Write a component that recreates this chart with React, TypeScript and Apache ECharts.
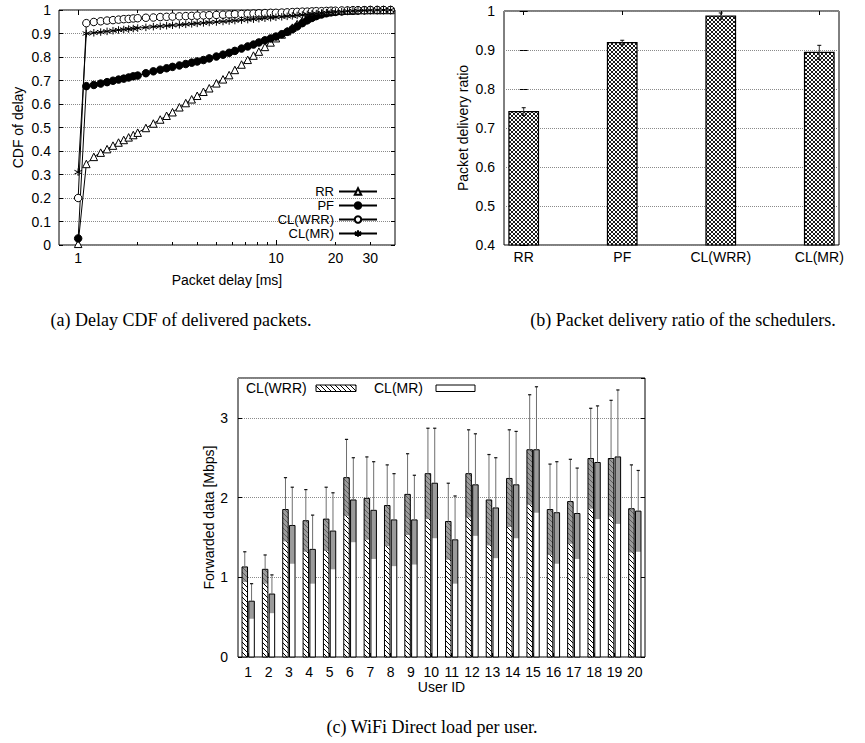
import React, { useEffect, useRef } from 'react';
import * as echarts from 'echarts';

// ---------- (a) Delay CDF ----------
const delayMs = [1.0, 1.1, 1.2, 1.3, 1.4, 1.5, 1.6, 1.7, 1.8, 1.9, 2.0, 2.2, 2.4, 2.6, 2.8, 3.0, 3.25, 3.5, 3.75, 4.0, 4.3, 4.6, 5.0, 5.4, 5.8, 6.2, 6.7, 7.2, 7.7, 8.2, 8.8, 9.4, 10, 10.7, 11.4, 12.1, 12.8, 13.6, 14.4, 15.2, 16, 17, 18, 19, 20, 21.5, 23, 24.5, 26, 28, 30, 32.5, 35, 38];
const cdfRR = [0.005, 0.345, 0.375, 0.393, 0.408, 0.423, 0.436, 0.447, 0.458, 0.468, 0.478, 0.498, 0.517, 0.534, 0.55, 0.565, 0.586, 0.604, 0.62, 0.635, 0.652, 0.667, 0.688, 0.705, 0.723, 0.745, 0.768, 0.788, 0.806, 0.823, 0.843, 0.862, 0.88, 0.896, 0.91, 0.925, 0.94, 0.954, 0.965, 0.974, 0.981, 0.987, 0.991, 0.994, 0.996, 0.997, 0.998, 0.999, 1, 1, 1, 1, 1, 1];
const cdfPF = [0.028, 0.676, 0.681, 0.687, 0.693, 0.699, 0.704, 0.708, 0.713, 0.718, 0.721, 0.731, 0.739, 0.746, 0.752, 0.758, 0.764, 0.77, 0.776, 0.781, 0.787, 0.794, 0.802, 0.81, 0.818, 0.826, 0.836, 0.845, 0.853, 0.862, 0.871, 0.879, 0.887, 0.897, 0.907, 0.918, 0.93, 0.944, 0.956, 0.966, 0.974, 0.981, 0.986, 0.99, 0.992, 0.994, 0.996, 0.997, 0.998, 0.999, 1, 1, 1, 1];
const cdfWRR = [0.2, 0.944, 0.949, 0.952, 0.955, 0.957, 0.959, 0.961, 0.962, 0.964, 0.965, 0.967, 0.968, 0.97, 0.971, 0.972, 0.973, 0.974, 0.975, 0.976, 0.977, 0.978, 0.979, 0.98, 0.981, 0.982, 0.983, 0.984, 0.985, 0.986, 0.987, 0.988, 0.988, 0.989, 0.99, 0.991, 0.992, 0.993, 0.993, 0.994, 0.995, 0.995, 0.996, 0.997, 0.997, 0.998, 0.998, 0.999, 0.999, 0.999, 1, 1, 1, 1];
const cdfMR = [0.31, 0.9, 0.903, 0.906, 0.909, 0.912, 0.915, 0.917, 0.919, 0.921, 0.923, 0.926, 0.929, 0.931, 0.933, 0.935, 0.937, 0.939, 0.941, 0.943, 0.945, 0.947, 0.949, 0.951, 0.953, 0.955, 0.957, 0.959, 0.961, 0.963, 0.965, 0.967, 0.969, 0.971, 0.973, 0.975, 0.977, 0.979, 0.981, 0.983, 0.985, 0.987, 0.989, 0.99, 0.992, 0.993, 0.995, 0.996, 0.997, 0.998, 0.999, 1, 1, 1];
const cdfSeriesNames = ['RR', 'PF', 'CL(WRR)', 'CL(MR)'];
const delayLabelTicks = [1, 10, 20, 30];
const delayMajorTicks = [1, 10];
const delayMinorTicks = [2, 3, 4, 5, 6, 7, 8, 9, 20, 30];

// ---------- (b) Packet delivery ratio ----------
const schedulers = ['RR', 'PF', 'CL(WRR)', 'CL(MR)'];
const deliveryRatio = [0.742, 0.919, 0.987, 0.894];
const deliveryErr = [0.01, 0.006, 0.008, 0.018];

// ---------- (c) WiFi Direct load per user ----------
const userIds = ['1', '2', '3', '4', '5', '6', '7', '8', '9', '10', '11', '12', '13', '14', '15', '16', '17', '18', '19', '20'];
const loadWRR = [1.13, 1.1, 1.85, 1.71, 1.73, 2.25, 1.99, 1.9, 2.04, 2.3, 1.7, 2.3, 1.97, 2.24, 2.6, 1.85, 1.95, 2.49, 2.49, 1.86];
const errWRR = [0.19, 0.18, 0.4, 0.39, 0.4, 0.48, 0.52, 0.51, 0.51, 0.57, 0.48, 0.55, 0.57, 0.61, 0.69, 0.57, 0.53, 0.63, 0.73, 0.55];
const loadMR = [0.7, 0.79, 1.65, 1.35, 1.58, 1.97, 1.84, 1.72, 1.72, 2.18, 1.47, 2.16, 1.87, 2.16, 2.6, 1.81, 1.8, 2.44, 2.51, 1.83];
const errMR = [0.22, 0.24, 0.48, 0.43, 0.48, 0.53, 0.61, 0.58, 0.56, 0.69, 0.55, 0.64, 0.63, 0.67, 0.79, 0.64, 0.57, 0.71, 0.84, 0.51];

const SANS = '"Liberation Sans", Arial, Helvetica, sans-serif';
const SERIF = '"Liberation Serif", "Times New Roman", serif';
const FS = 14;
const CAP = 18;
const ASTERISK = 'path://M5,0L5,10M0.67,2.5L9.33,7.5M0.67,7.5L9.33,2.5';

function makeCrossHatch() {
  const s = 4;
  const c = document.createElement('canvas');
  c.width = s; c.height = s;
  const g = c.getContext('2d')!;
  g.fillStyle = '#fff'; g.fillRect(0, 0, s, s);
  g.strokeStyle = '#000'; g.lineWidth = 0.9;
  g.beginPath();
  for (const k of [-s, 0, s]) {
    g.moveTo(k - 1, -1); g.lineTo(k + s + 1, s + 1);
    g.moveTo(k - 1, s + 1); g.lineTo(k + s + 1, -1);
  }
  g.stroke();
  return { image: c, repeat: 'repeat', imageWidth: s, imageHeight: s };
}

function makeDiagHatch() {
  const s = 5;
  const c = document.createElement('canvas');
  c.width = s; c.height = s;
  const g = c.getContext('2d')!;
  g.fillStyle = '#fff'; g.fillRect(0, 0, s, s);
  g.strokeStyle = '#000'; g.lineWidth = 1;
  g.beginPath();
  for (const k of [-s, 0, s]) {
    g.moveTo(k - 1, -1); g.lineTo(k + s + 1, s + 1);
  }
  g.stroke();
  return { image: c, repeat: 'repeat', imageWidth: s, imageHeight: s };
}

const tickInside = (len: number, extra: any = {}) => ({ show: true, inside: true, length: len, lineStyle: { color: '#000', width: 1 }, ...extra });
const dotted = { show: true, lineStyle: { color: '#8a8a8a', type: 'dotted', width: 1 } };
const labelStyle = (margin: number, extra: any = {}) => ({ margin, fontSize: FS, color: '#000', fontFamily: SANS, ...extra });
const nameStyle = { fontSize: FS, color: '#000', fontFamily: SANS };

export default function App() {
  const ref = useRef<HTMLDivElement>(null);
  useEffect(() => {
    const el = ref.current!;
    const chart = echarts.init(el, undefined, { renderer: 'svg' });
    const crossHatch = makeCrossHatch();
    const diagHatch = makeDiagHatch();
    const DELIVERY_MIN = 0.4;

    const cdfStyles = [
      { symbol: 'triangle', fill: '#fff' },
      { symbol: 'circle', fill: '#000' },
      { symbol: 'circle', fill: '#fff' },
      { symbol: ASTERISK, fill: '#000' },
    ];
    const cdfSeries = [cdfRR, cdfPF, cdfWRR, cdfMR].map((ys, k) => ({
      type: 'line',
      name: cdfSeriesNames[k],
      xAxisIndex: 0,
      yAxisIndex: 0,
      data: delayMs.map((d, i) => [d, ys[i]]),
      symbol: cdfStyles[k].symbol,
      symbolSize: 7.5,
      showSymbol: true,
      showAllSymbol: true,
      clip: false,
      lineStyle: { color: '#000', width: 1 },
      itemStyle: { color: cdfStyles[k].fill, borderColor: '#000', borderWidth: 1 },
      emphasis: { disabled: true },
      z: 3 + k,
    }));

    const deliverySeries = {
      type: 'custom',
      name: 'delivery',
      xAxisIndex: 4,
      yAxisIndex: 2,
      data: schedulers.map((s, i) => [i, deliveryRatio[i], deliveryErr[i]]),
      renderItem: (params: any, api: any) => {
        const i = api.value(0), v = api.value(1), e = api.value(2);
        const w = api.size([0.3, 0])[0];
        const base = api.coord([i, DELIVERY_MIN]);
        const top = api.coord([i, v]);
        const hi = api.coord([i, v + e])[1];
        const lo = api.coord([i, v - e])[1];
        const x = top[0];
        return {
          type: 'group',
          children: [
            { type: 'rect', shape: { x: x - w / 2, y: top[1], width: w, height: base[1] - top[1] }, style: { fill: crossHatch, stroke: '#000', lineWidth: 1.2 } },
            { type: 'line', shape: { x1: x, y1: lo, x2: x, y2: hi }, style: { stroke: '#333', lineWidth: 1 } },
            { type: 'line', shape: { x1: x - 2, y1: hi, x2: x + 2, y2: hi }, style: { stroke: '#000', lineWidth: 1 } },
            { type: 'line', shape: { x1: x - 2, y1: lo, x2: x + 2, y2: lo }, style: { stroke: '#000', lineWidth: 1 } },
          ],
        };
      },
    };

    const loadSeries = (name: string, vals: number[], errs: number[], side: number, fill: any) => ({
      type: 'custom',
      name,
      xAxisIndex: 6,
      yAxisIndex: 4,
      data: userIds.map((u, i) => [i, vals[i], errs[i]]),
      renderItem: (params: any, api: any) => {
        const i = api.value(0), v = api.value(1), e = api.value(2);
        const band = api.size([1, 0])[0];
        const w = band * 0.27;
        const c = api.coord([i, 0])[0] + side * band * 0.167;
        const y0 = api.coord([i, 0])[1];
        const yv = api.coord([i, v])[1];
        const yHi = api.coord([i, v + e])[1];
        const yLo = api.coord([i, v - e])[1];
        return {
          type: 'group',
          children: [
            { type: 'rect', shape: { x: c - w / 2, y: yv, width: w, height: y0 - yv }, style: { fill } },
            { type: 'rect', shape: { x: c - w / 2, y: yv, width: w, height: yLo - yv }, style: { fill: '#7a7a7a', opacity: 0.75 } },
            { type: 'rect', shape: { x: c - w / 2, y: yv, width: w, height: y0 - yv }, style: { fill: 'none', stroke: '#000', lineWidth: 1 } },
            { type: 'line', shape: { x1: c, y1: yv, x2: c, y2: yHi }, style: { stroke: '#6e6e6e', lineWidth: 1 } },
            { type: 'line', shape: { x1: c - 1.6, y1: yHi, x2: c + 1.6, y2: yHi }, style: { stroke: '#111', lineWidth: 1.2 } },
          ],
        };
      },
    });

    const logAxisBase = { gridIndex: 0, type: 'log', logBase: 10, min: 0.8, max: 40, splitLine: { show: false }, axisLine: { show: false }, minorTick: { show: false } };

    const option: any = {
      animation: false,
      backgroundColor: '#fff',
      textStyle: { fontFamily: SANS },
      grid: [
        { left: 59, top: 10, width: 336, height: 235, show: true, borderColor: '#000', borderWidth: 1, backgroundColor: 'transparent', outerBoundsMode: 'none' },
        { left: 504, top: 11, width: 335, height: 234, show: true, borderColor: '#000', borderWidth: 1, backgroundColor: 'transparent', outerBoundsMode: 'none' },
        { left: 238, top: 378, width: 407, height: 279, show: true, borderColor: '#000', borderWidth: 1, backgroundColor: 'transparent', outerBoundsMode: 'none' },
      ],
      legend: [{
        data: cdfSeriesNames,
        orient: 'vertical',
        align: 'right',
        right: 487,
        top: 185,
        padding: 0,
        itemWidth: 38,
        itemHeight: 8,
        itemGap: 1,
        selectedMode: false,
        textStyle: { fontSize: 13, color: '#000', fontFamily: SANS, lineHeight: 13 },
      }],
      xAxis: [
        { ...logAxisBase, position: 'bottom', axisTick: tickInside(5, { customValues: delayMajorTicks }), axisLabel: labelStyle(6, { customValues: delayLabelTicks }), name: 'Packet delay [ms]', nameLocation: 'middle', nameGap: 28, nameTextStyle: nameStyle },
        { ...logAxisBase, position: 'bottom', axisTick: tickInside(3, { customValues: delayMinorTicks }), axisLabel: { show: false } },
        { ...logAxisBase, position: 'top', axisTick: tickInside(5, { customValues: delayMajorTicks }), axisLabel: { show: false } },
        { ...logAxisBase, position: 'top', axisTick: tickInside(3, { customValues: delayMinorTicks }), axisLabel: { show: false } },
        { gridIndex: 1, type: 'value', min: -0.2, max: 3.2, position: 'bottom', splitLine: { show: false }, axisLine: { show: false }, axisTick: { show: false },
          axisLabel: labelStyle(5, { customValues: [0, 1, 2, 3], formatter: (v: number) => schedulers[Math.round(v)] ?? '' }) },
        { gridIndex: 1, type: 'value', min: -0.2, max: 3.2, position: 'top', splitLine: { show: false }, axisLine: { show: false }, axisTick: tickInside(4, { customValues: [0, 1, 2, 3] }), axisLabel: { show: false } },
        { gridIndex: 2, type: 'category', data: userIds, position: 'bottom', boundaryGap: true, splitLine: { show: false }, axisLine: { show: false },
          axisTick: tickInside(4, { alignWithLabel: true }), axisLabel: labelStyle(8, { interval: 0 }),
          name: 'User ID', nameLocation: 'middle', nameGap: 20, nameTextStyle: nameStyle },
      ],
      yAxis: [
        { gridIndex: 0, type: 'value', min: 0, max: 1, interval: 0.1, position: 'left', axisLine: { show: false }, axisTick: tickInside(4), axisLabel: labelStyle(8), splitLine: dotted,
          name: 'CDF of delay', nameLocation: 'middle', nameGap: 34, nameTextStyle: nameStyle },
        { gridIndex: 0, type: 'value', min: 0, max: 1, interval: 0.1, position: 'right', axisLine: { show: false }, axisTick: tickInside(4), axisLabel: { show: false }, splitLine: { show: false } },
        { gridIndex: 1, type: 'value', min: DELIVERY_MIN, max: 1, interval: 0.1, position: 'left', axisLine: { show: false }, axisTick: tickInside(4), axisLabel: labelStyle(9), splitLine: dotted,
          name: 'Packet delivery ratio', nameLocation: 'middle', nameGap: 34, nameTextStyle: nameStyle },
        { gridIndex: 1, type: 'value', min: DELIVERY_MIN, max: 1, interval: 0.1, position: 'right', axisLine: { show: false }, axisTick: tickInside(4), axisLabel: { show: false }, splitLine: { show: false } },
        { gridIndex: 2, type: 'value', min: 0, max: 3.5, interval: 1, position: 'left', axisLine: { show: false }, axisTick: tickInside(4), axisLabel: labelStyle(10, { showMaxLabel: false }), splitLine: dotted,
          name: 'Forwarded data [Mbps]', nameLocation: 'middle', nameGap: 21, nameTextStyle: nameStyle },
        { gridIndex: 2, type: 'value', min: 0, max: 3.5, interval: 1, position: 'right', axisLine: { show: false }, axisTick: tickInside(4), axisLabel: { show: false }, splitLine: { show: false } },
      ],
      series: [
        ...cdfSeries,
        deliverySeries,
        loadSeries('CL(WRR) load', loadWRR, errWRR, -1, diagHatch),
        loadSeries('CL(MR) load', loadMR, errMR, 1, '#fff'),
      ],
      graphic: [
        { type: 'text', x: 246, y: 388, style: { text: 'CL(WRR)', font: `${FS}px ${SANS}`, fill: '#000', align: 'left', verticalAlign: 'middle' } },
        { type: 'rect', shape: { x: 316, y: 385, width: 40, height: 6.5 }, style: { fill: diagHatch, stroke: '#000', lineWidth: 1 } },
        { type: 'text', x: 374, y: 388, style: { text: 'CL(MR)', font: `${FS}px ${SANS}`, fill: '#000', align: 'left', verticalAlign: 'middle' } },
        { type: 'rect', shape: { x: 436, y: 385, width: 39, height: 6.5 }, style: { fill: '#fff', stroke: '#000', lineWidth: 1 } },
        { type: 'text', x: 181, y: 320, style: { text: '(a) Delay CDF of delivered packets.', font: `${CAP}px ${SERIF}`, fill: '#000', align: 'center', verticalAlign: 'middle' } },
        { type: 'text', x: 683, y: 320, style: { text: '(b) Packet delivery ratio of the schedulers.', font: `${CAP}px ${SERIF}`, fill: '#000', align: 'center', verticalAlign: 'middle' } },
        { type: 'text', x: 432, y: 727, style: { text: '(c) WiFi Direct load per user.', font: `${CAP}px ${SERIF}`, fill: '#000', align: 'center', verticalAlign: 'middle' } },
      ],
    };
    chart.setOption(option);
    return () => chart.dispose();
  }, []);
  return <div ref={ref} style={{ position: 'absolute', left: 0, top: 0, width: 865, height: 743, background: '#fff' }} />;
}
